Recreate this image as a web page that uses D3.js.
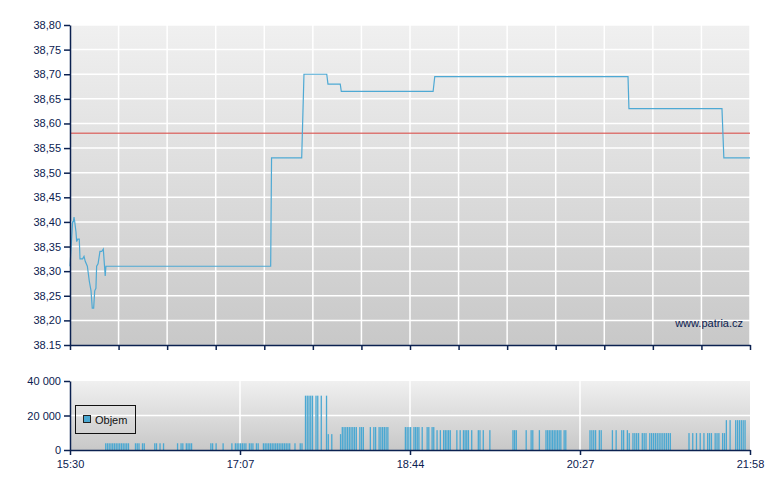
<!DOCTYPE html>
<html>
<head>
<meta charset="utf-8">
<script src="https://cdn.jsdelivr.net/npm/d3@7"></script>
<style>
  body { margin: 0; background: #fff; }
  svg { display: block; font-family: "Liberation Sans", Arial, sans-serif; }
</style>
</head>
<body>
<div id="chart"></div>
<script>
// osa x : casy popisku (kotvy casove osy)
const timeLabels = ["15:30", "17:07", "18:44", "20:27", "21:58"];

// osa y ceny
const priceTicks = [38.15, 38.20, 38.25, 38.30, 38.35, 38.40, 38.45, 38.50, 38.55, 38.60, 38.65, 38.70, 38.75, 38.80];
const priceTickLabels = ["38.15", "38,20", "38,25", "38,30", "38,35", "38,40", "38,45", "38,50", "38,55", "38,60", "38,65", "38,70", "38,75", "38,80"];

// osa y objemu
const volTicks = [0, 20000, 40000];
const volTickLabels = ["0", "20 000", "40 000"];

const refPrice = 38.58;

// cena: [minuty od 15:30, cena]
const price = [
    [0, 38.31], [1.5, 38.40], [1.9, 38.40], [2.3, 38.41], [2.7, 38.40], [3.4, 38.38],
    [3.8, 38.36], [4.4, 38.365], [5.3, 38.365], [5.7, 38.325], [7.2, 38.325], [8, 38.33],
    [8.7, 38.32], [9.9, 38.31], [11, 38.28], [12, 38.26], [12.7, 38.225], [13.5, 38.225],
    [14.1, 38.26], [14.8, 38.265], [15.2, 38.31], [16, 38.315], [17.1, 38.34], [18.1, 38.34],
    [19, 38.345], [20.1, 38.29], [20.5, 38.31], [114.5, 38.31], [115, 38.53], [132.2, 38.53],
    [133.5, 38.70], [146.5, 38.70], [147.2, 38.68], [154.2, 38.68], [154.8, 38.665],
    [208, 38.665], [209, 38.695], [322.7, 38.695], [323.2, 38.63], [373, 38.63],
    [374, 38.53], [388, 38.53]
];

// objem: [minuty od 15:30, kusy]
const volume = [
    [20, 3900], [21, 3900], [22, 3900], [23, 3900], [24, 3900], [25, 3900], [26, 3900],
    [27, 3900], [28, 3900], [29, 3900], [30, 3900], [31, 3900], [32, 3900], [33, 3900],
    [37, 3900], [38, 3900], [39, 3900], [41, 3900], [42, 3900],
    [48, 3900], [49, 3900], [51, 3900], [53, 3900],
    [61, 3900], [63, 3900], [64, 3900], [66, 3900], [67, 3900], [68, 3900], [69, 3900],
    [80, 3900], [81, 3900], [83, 3900], [87, 3900],
    [92, 3900], [94, 3900], [95, 3900], [96, 3900], [97, 3900], [98, 3900], [99, 3900],
    [100, 3900], [102, 3900], [103, 3900], [104, 3900], [106, 3900], [107, 3900],
    [110, 3900], [111, 3900], [112, 3900], [113, 3900], [114, 3900], [115, 3900],
    [116, 3900], [117, 3900], [118, 3900], [119, 3900], [120, 3900], [121, 3900],
    [122, 3900], [123, 3900], [124, 3900], [125, 3900], [128, 3900], [131, 3900], [132, 3900],
    [134, 31500], [135, 31500], [136, 31500], [137, 31500], [138, 31500],
    [140, 31500], [141, 31500], [143, 31500], [146, 31500],
    [147, 9200], [149, 9200], [154, 9200],
    [155, 13300], [156, 13300], [157, 13300], [158, 13300], [159, 13300], [160, 13300],
    [161, 13300], [162, 13300], [163, 13300], [165, 13300], [166, 13300], [167, 13300],
    [171, 13300], [173, 13300], [174, 13300], [176, 13300], [177, 13300], [178, 13300],
    [179, 13300], [180, 13300], [181, 13300], [191, 13300], [192, 13300], [193, 13300],
    [194, 13300], [196, 13300], [197, 13300], [198, 13300], [199, 13300], [201, 13300],
    [204, 13300], [205, 13300], [207, 13300], [208, 13300],
    [210, 11500], [212, 11500], [214, 11500], [215, 11500], [216, 11500], [217, 11500],
    [218, 11500], [222, 11500], [224, 11500], [226, 11500], [227, 11500], [228, 11500],
    [229, 11500], [231, 11500], [235, 11500], [236, 11500], [238, 11500], [242, 11500],
    [256, 11500], [257, 11500], [258, 11500], [264, 11500], [267, 11500], [268, 11500],
    [272, 11500], [276, 11500], [277, 11500], [278, 11500], [279, 11500], [280, 11500],
    [281, 11500], [282, 11500], [283, 11500], [284, 11500], [285, 11500], [287, 11500],
    [288, 11500], [302, 11500], [303, 11500], [304, 11500], [305, 11500], [307, 11500],
    [308, 11500], [314, 11500], [316, 11500], [319, 11500], [320, 11500], [322, 11500],
    [323, 9800], [325, 9800], [326, 9800], [327, 9800], [328, 9800], [330, 9800],
    [331, 9800], [332, 9800], [334, 9800], [335, 9800], [336, 9800], [337, 9800],
    [338, 9800], [339, 9800], [340, 9800], [341, 9800], [342, 9800], [343, 9800],
    [344, 9800], [345, 9800], [355, 9800], [357, 9800], [359, 9800], [361, 9800],
    [363, 9800], [365, 9800], [366, 9800], [367, 9800], [369, 9800], [370, 9800],
    [371, 9800], [373, 9800], [374, 9800],
    [375, 17300], [377, 17300], [380, 17300], [381, 17300], [382, 17300], [383, 17300],
    [384, 17300], [385, 17300]
];

const W = 780, H = 490;
const LEFT = 70, RIGHT = 750;
const TOP1 = 25, BOT1 = 345;
const TOP2 = 381, BOT2 = 450;
const NAVY = "#0b2150";
const BLUE = "#4aa8d2";

const parseT = d3.timeParse("%H:%M");
const t0 = parseT(timeLabels[0]);
const toTime = m => new Date(t0.getTime() + m * 60000);

// casova osa je po usecich (popisky jsou ve ctvrtinach sirky)
const x = d3.scaleTime()
    .domain(timeLabels.map(parseT))
    .range(timeLabels.map((d, i) => LEFT + i * (RIGHT - LEFT) / (timeLabels.length - 1)));
const gridX = d3.scaleLinear().domain([0, 14]).range([LEFT, RIGHT]);

const yP = d3.scaleLinear().domain([38.15, 38.80]).range([BOT1, TOP1]);
const yV = d3.scaleLinear().domain([0, 40000]).range([BOT2, TOP2]);

const svg = d3.select("#chart").append("svg")
    .attr("width", W).attr("height", H);

const grad = svg.append("defs").append("linearGradient")
    .attr("id", "bg").attr("x1", 0).attr("y1", 0).attr("x2", 0).attr("y2", 1);
grad.append("stop").attr("offset", "0%").attr("stop-color", "#f0f0f0");
grad.append("stop").attr("offset", "100%").attr("stop-color", "#c8c8c8");

// ---- horni graf (cena) ----
svg.append("rect")
    .attr("x", LEFT).attr("y", TOP1)
    .attr("width", RIGHT - LEFT).attr("height", BOT1 - TOP1)
    .attr("fill", "url(#bg)");

svg.append("g").selectAll("line")
    .data(priceTicks.slice(1))
    .join("line")
    .attr("x1", LEFT).attr("x2", RIGHT)
    .attr("y1", d => yP(d)).attr("y2", d => yP(d))
    .attr("stroke", "#fff").attr("stroke-width", 1.5);

svg.append("g").selectAll("line")
    .data(d3.range(1, 15))
    .join("line")
    .attr("x1", d => gridX(d)).attr("x2", d => gridX(d))
    .attr("y1", TOP1).attr("y2", BOT1)
    .attr("stroke", "#fff").attr("stroke-width", 1.5);

svg.append("line")
    .attr("x1", LEFT).attr("x2", RIGHT)
    .attr("y1", yP(refPrice)).attr("y2", yP(refPrice))
    .attr("stroke", "#d9534f").attr("stroke-opacity", 0.75).attr("stroke-width", 1.5);

const line = d3.line()
    .x(d => x(toTime(d[0])))
    .y(d => yP(d[1]));

svg.append("path")
    .datum(price)
    .attr("d", line)
    .attr("fill", "none")
    .attr("stroke", "#4ea9d4")
    .attr("stroke-width", 1.2);

svg.append("text")
    .attr("x", 743).attr("y", 327)
    .attr("text-anchor", "end")
    .attr("font-size", 11)
    .attr("fill", NAVY)
    .text("www.patria.cz");

const axP = svg.append("g")
    .attr("transform", `translate(${LEFT},0)`)
    .call(d3.axisLeft(yP).tickValues(priceTicks)
        .tickFormat((d, i) => priceTickLabels[i]).tickSize(6).tickSizeOuter(0));

const axPB = svg.append("g")
    .attr("transform", `translate(0,${BOT1})`)
    .call(d3.axisBottom(gridX).tickValues(d3.range(0, 15))
        .tickFormat("").tickSize(5).tickSizeOuter(0));

// ---- dolni graf (objem) ----
svg.append("rect")
    .attr("x", LEFT).attr("y", TOP2)
    .attr("width", RIGHT - LEFT).attr("height", BOT2 - TOP2)
    .attr("fill", "url(#bg)");

svg.append("line")
    .attr("x1", LEFT).attr("x2", RIGHT)
    .attr("y1", yV(20000)).attr("y2", yV(20000))
    .attr("stroke", "#fff").attr("stroke-width", 1.5);

svg.append("g").selectAll("line")
    .data(timeLabels.slice(1, -1))
    .join("line")
    .attr("x1", d => x(parseT(d))).attr("x2", d => x(parseT(d)))
    .attr("y1", TOP2).attr("y2", BOT2)
    .attr("stroke", "#fff").attr("stroke-width", 1.5);

svg.append("g").selectAll("rect")
    .data(volume)
    .join("rect")
    .attr("x", d => x(toTime(d[0])))
    .attr("y", d => yV(d[1]))
    .attr("width", 1.3)
    .attr("height", d => BOT2 - yV(d[1]))
    .attr("fill", BLUE);

const axV = svg.append("g")
    .attr("transform", `translate(${LEFT},0)`)
    .call(d3.axisLeft(yV).tickValues(volTicks)
        .tickFormat((d, i) => volTickLabels[i]).tickSize(6).tickSizeOuter(0));

const axT = svg.append("g")
    .attr("transform", `translate(0,${BOT2})`)
    .call(d3.axisBottom(x).tickValues(timeLabels.map(parseT))
        .tickFormat((d, i) => timeLabels[i]).tickSize(5).tickSizeOuter(0));

[axP, axPB, axV, axT].forEach(a => {
    a.select(".domain").attr("stroke", NAVY).attr("stroke-width", 1.5);
    a.selectAll(".tick line").attr("stroke", NAVY).attr("stroke-width", 1.5);
    a.selectAll(".tick text").attr("fill", NAVY)
        .attr("font-size", 11)
        .attr("font-family", "'Liberation Sans', Arial, sans-serif");
});
axT.selectAll(".tick text").attr("dy", "0.9em");

// legenda
const leg = svg.append("g");
leg.append("rect")
    .attr("x", 75.5).attr("y", 405.5).attr("width", 60).attr("height", 28)
    .attr("fill", "none").attr("stroke", "#111");
leg.append("rect")
    .attr("x", 83.5).attr("y", 415.5).attr("width", 7).attr("height", 7)
    .attr("fill", BLUE).attr("stroke", "#222");
leg.append("text")
    .attr("x", 95).attr("y", 424)
    .attr("font-size", 11).attr("fill", "#111")
    .text("Objem");
</script>
</body>
</html>
